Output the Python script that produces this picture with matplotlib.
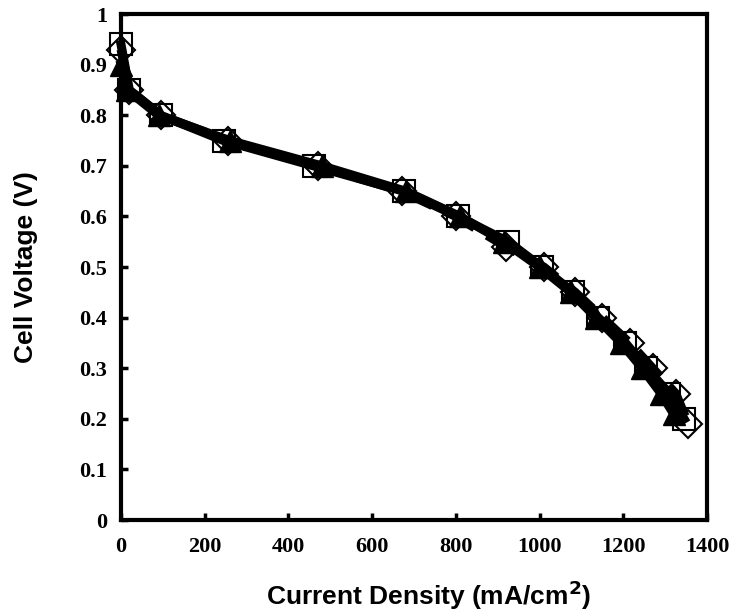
import numpy as np
import matplotlib.pyplot as plt

# polarization curves
sq_i = [0, 20, 95, 245, 460, 675, 805, 925, 1005, 1080, 1140, 1205, 1255, 1310, 1345]
sq_v = [0.94, 0.85, 0.80, 0.75, 0.70, 0.65, 0.60, 0.55, 0.50, 0.45, 0.40, 0.35, 0.30, 0.25, 0.20]

dm_i = [0, 20, 95, 255, 470, 670, 800, 920, 1010, 1085, 1150, 1215, 1270, 1325, 1355]
dm_v = [0.93, 0.85, 0.80, 0.75, 0.70, 0.65, 0.60, 0.54, 0.50, 0.45, 0.40, 0.35, 0.30, 0.25, 0.19]

tr_i = [0, 15, 90, 260, 480, 680, 810, 915, 1000, 1075, 1135, 1195, 1245, 1290, 1320]
tr_v = [0.90, 0.85, 0.80, 0.75, 0.70, 0.65, 0.60, 0.55, 0.50, 0.45, 0.40, 0.35, 0.30, 0.25, 0.21]

xticks = [0, 200, 400, 600, 800, 1000, 1200, 1400]
yticks = [0, 0.1, 0.2, 0.3, 0.4, 0.5, 0.6, 0.7, 0.8, 0.9, 1]
ytick_labels = ['0', '0.1', '0.2', '0.3', '0.4', '0.5', '0.6', '0.7', '0.8', '0.9', '1']

fig = plt.figure(figsize=(7.29, 6.14), dpi=100)
ax = fig.add_axes([0.166, 0.153, 0.804, 0.824])

ax.plot(sq_i, sq_v, '-', color='black', lw=6.5, marker='s', ms=16, mfc='none', mec='black', mew=1.5, zorder=3, clip_on=False)
ax.plot(dm_i, dm_v, '--', color='black', lw=6.5, marker='D', ms=14, mfc='none', mec='black', mew=1.5, zorder=3, clip_on=False)
ax.plot(tr_i, tr_v, '-', color='black', lw=6.5, marker='^', ms=16, mfc='black', mec='black', zorder=4, clip_on=False)

ax.set_xlim(0, 1400)
ax.set_ylim(0, 1)
ax.set_xticks(xticks)
ax.set_yticks(yticks)
ax.set_yticklabels(ytick_labels)

for s in ax.spines.values():
    s.set_linewidth(3)
ax.tick_params(direction='in', length=5, width=2.5, pad=10)
ax.tick_params(axis='x', pad=12)
for lab in ax.get_xticklabels():
    lab.set_family('Liberation Serif')
    lab.set_fontweight('bold')
    lab.set_fontsize(16)
for lab in ax.get_yticklabels():
    lab.set_family('Liberation Serif')
    lab.set_fontweight('bold')
    lab.set_fontsize(16)

ax.set_xlabel('Current Density (mA/cm$^\\mathbf{2}$)', family='Liberation Sans', fontweight='bold', fontsize=19, labelpad=16)
ax.xaxis.label.set_x(0.525)
ax.set_ylabel('Cell Voltage (V)', family='Liberation Sans', fontweight='bold', fontsize=19, labelpad=30)

fig.savefig('out.png', dpi=100)
